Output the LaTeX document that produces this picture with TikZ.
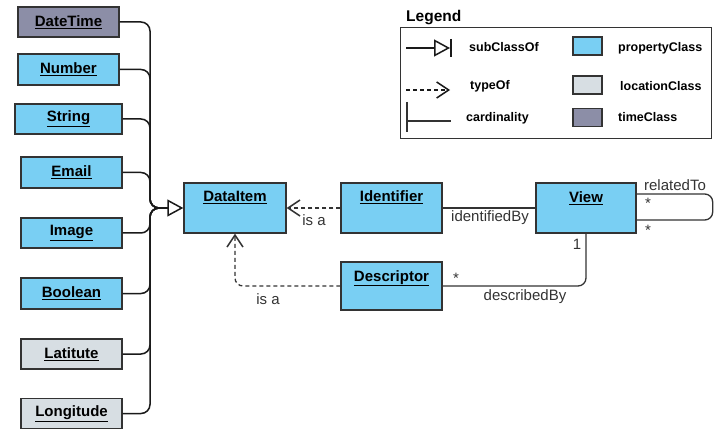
\documentclass[tikz,border=0pt]{standalone}
\usepackage{fontspec}
\setmainfont{Liberation Sans}
\usetikzlibrary{arrows.meta}
\definecolor{propc}{HTML}{79CFF3}
\definecolor{locc}{HTML}{D7DEE3}
\definecolor{timec}{HTML}{8C8EA7}
\definecolor{bordc}{HTML}{333333}
\definecolor{linec}{HTML}{1A1A1A}
\definecolor{txtc}{HTML}{333333}
\begin{document}
\begin{tikzpicture}[x=1pt,y=-1pt,
  box/.style={draw=bordc, line width=1.4pt, inner sep=0pt, font=\fontsize{15}{18}\selectfont\bfseries},
  pbox/.style={box, fill=propc},
  lbox/.style={box, fill=locc},
  tbox/.style={box, fill=timec},
  boxlbl/.style={inner sep=0pt, anchor=base, font=\fontsize{15}{18}\selectfont\bfseries},
  rel/.style={inner sep=0pt, anchor=base, text=txtc, font=\fontsize{15}{18}\selectfont},
  leg/.style={inner sep=0pt, anchor=base west, font=\fontsize{12.5}{15}\selectfont\bfseries},
  bus/.style={draw=linec, line width=1.5pt, rounded corners=9pt},
  barb/.style={-{Straight Barb[length=12pt,width=16pt,line width=1.5pt]}},
  isa/.style={draw=txtc, line width=1.3pt, dash pattern=on 4pt off 3pt, rounded corners=8pt, barb},
  assoc/.style={draw=txtc, line width=1.3pt, rounded corners=8pt},
  swatch/.style={draw=bordc, line width=1.4pt, minimum width=29pt, minimum height=18pt, inner sep=0pt}
]
\useasboundingbox (0,0) rectangle (722,430);

% left boxes
\node[tbox, minimum width=101pt, minimum height=30pt] (datetime) at (68.5,22) {\underline{DateTime}};
\node[pbox, minimum width=101pt, minimum height=31pt] (number) at (68.5,69.5) {\underline{Number}};
\node[pbox, minimum width=107pt, minimum height=30pt] (string) at (68.5,119) {\underline{String}};
\node[pbox, minimum width=101pt, minimum height=31pt] (email) at (71.5,172.5) {\underline{Email}};
\node[pbox, minimum width=101pt, minimum height=30pt] (image) at (71.5,233) {\underline{Image}};
\node[pbox, minimum width=101pt, minimum height=31pt] (boolean) at (71.5,293.5) {\underline{Boolean}};
\node[lbox, minimum width=101pt, minimum height=30pt] (latitute) at (71.5,354) {\underline{Latitute}};
\node[lbox, minimum width=101pt, minimum height=30pt] (longitude) at (71.5,413.5) {\underline{Longitude}};

% main boxes
\node[pbox, minimum width=102pt, minimum height=50pt] (dataitem) at (235,208) {};
\node[boxlbl] (dataitemlbl) at (235,202) {\underline{DataItem}};
\node[pbox, minimum width=101pt, minimum height=50pt] (identifier) at (391.5,208) {};
\node[boxlbl] (identifierlbl) at (391.5,202) {\underline{Identifier}};
\node[pbox, minimum width=101pt, minimum height=48pt] (descriptor) at (391.5,286) {};
\node[boxlbl] (descriptorlbl) at (391.5,281) {\underline{Descriptor}};
\node[pbox, minimum width=100pt, minimum height=50pt] (view) at (586,208) {};
\node[boxlbl] (viewlbl) at (586,202.5) {\underline{View}};

% bus to DataItem
\coordinate (busend) at (150,208);
\foreach \n in {datetime,number,string,email,image,boolean,latitute,longitude}{
  \draw[bus] (\n.east) -| (busend) -- ([xshift=-17pt]dataitem.west);
}
\draw[draw=linec, line width=1.5pt, -{Triangle[open,length=16pt,width=17pt,line width=1.5pt]}]
  ([xshift=-18pt]dataitem.west) -- (dataitem.west);

% is a
\draw[isa] (identifier.west) -- (dataitem.east);
\node[rel, anchor=center] (isa1) at (314,220) {is a};
\draw[isa] (descriptor.west) -| (dataitem.south);
\node[rel, anchor=center] (isa2) at (268,299) {is a};

% associations
\draw[assoc] (identifier.east) -- (view.west);
\node[rel] (identifiedby) at (490,222) {identifiedBy};
\draw[assoc] (view.south) |- (descriptor.east);
\node[rel] (describedby) at (525,300) {describedBy};
\node[rel, anchor=center] (one) at (577,244) {1};
\node[rel, anchor=center] (star1) at (456,278) {*};
\draw[assoc] ([yshift=14pt]view.east) -- ++(76,0) -- ++(0,26) -- ([yshift=-12pt]view.east);
\node[rel] (relatedto) at (675,191) {relatedTo};
\node[rel, anchor=center] (star2) at (648,203) {*};
\node[rel, anchor=center] (star3) at (648,230) {*};

% legend
\node[inner sep=0pt, anchor=base west, font=\fontsize{15.5}{18}\selectfont\bfseries] (legendtitle) at (406,22) {Legend};
\draw[draw=bordc, line width=1pt] (400,28) rectangle (711,139);
\draw[draw=linec, line width=1.5pt, -{Triangle[open,length=16pt,width=17pt,line width=1.5pt]}] (406,48) -- (450,48);
\draw[draw=linec, line width=1.5pt] (451,39) -- (451,57);
\node[leg] (lsub) at (469,52) {subClassOf};
\draw[draw=linec, line width=1.3pt, dash pattern=on 4pt off 3pt, barb] (406,90) -- (450,90);
\node[leg] (ltype) at (470,90) {typeOf};
\draw[draw=txtc, line width=1.2pt] (407,102) -- (407,132);
\draw[draw=txtc, line width=1.2pt] (407,121) -- (451,121);
\node[leg] (lcard) at (466,122) {cardinality};
\node[swatch, fill=propc] (sw1) at (587.5,46) {};
\node[leg] (lprop) at (618,52) {propertyClass};
\node[swatch, fill=locc] (sw2) at (587.5,85) {};
\node[leg] (lloc) at (620,91) {locationClass};
\node[swatch, fill=timec] (sw3) at (587.5,117.5) {};
\node[leg] (ltime) at (618,122) {timeClass};
\end{tikzpicture}
\end{document}
